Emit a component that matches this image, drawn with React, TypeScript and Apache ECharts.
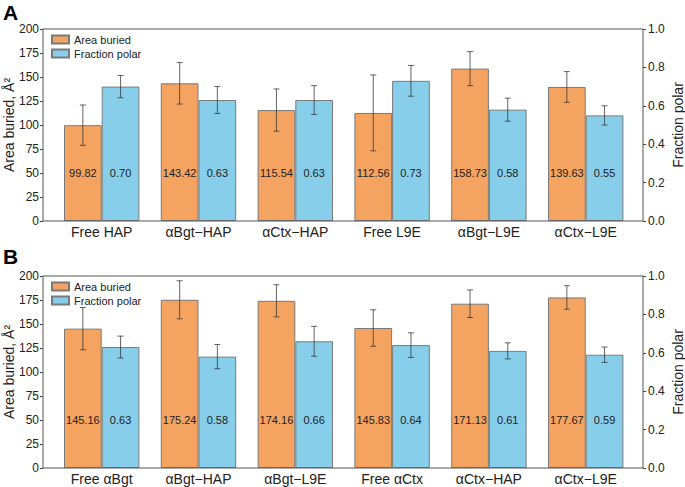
import React, { useEffect, useRef } from "react";
import * as echarts from "echarts";

const categoriesA = ["Free HAP", "αBgt−HAP", "αCtx−HAP", "Free L9E", "αBgt−L9E", "αCtx−L9E"];
const areaA = [99.82, 143.42, 115.54, 112.56, 158.73, 139.63];
const areaErrA = [21, 21.6, 22, 39.5, 17.7, 16];
const polarA = [0.7, 0.63, 0.63, 0.73, 0.58, 0.55];
const polarErrA = [0.058, 0.07, 0.075, 0.08, 0.06, 0.05];

const categoriesB = ["Free αBgt", "αBgt−HAP", "αBgt−L9E", "Free αCtx", "αCtx−HAP", "αCtx−L9E"];
const areaB = [145.16, 175.24, 174.16, 145.83, 171.13, 177.67];
const areaErrB = [22, 19.8, 16.7, 19, 14.4, 12.2];
const polarB = [0.63, 0.58, 0.66, 0.64, 0.61, 0.59];
const polarErrB = [0.057, 0.063, 0.078, 0.064, 0.042, 0.04];

const leftTicks = { min: 0, max: 200, interval: 25 };
const rightTicks = { min: 0, max: 1, interval: 0.2 };

const FONT = "Liberation Sans, Arial, Helvetica, sans-serif";
const ORANGE = "#F4A460";
const BLUE = "#87CEEB";
const EDGE = "#7a7a7a";
const BAR_W = 37.7;

const panels = [
  { top: 29, cats: categoriesA, area: areaA, areaErr: areaErrA, polar: polarA, polarErr: polarErrA, letter: "A", letterTop: 2 },
  { top: 276, cats: categoriesB, area: areaB, areaErr: areaErrB, polar: polarB, polarErr: polarErrB, letter: "B", letterTop: 246 },
];

const makeErr = (dx: number) => (params: any, api: any) => {
  const c = api.value(0);
  const lo = api.coord([c, api.value(1)]);
  const hi = api.coord([c, api.value(2)]);
  const x = lo[0] + dx;
  const cap = 3;
  const style = { stroke: "rgba(50,50,50,0.75)", lineWidth: 1 };
  return {
    type: "group",
    children: [
      { type: "line", shape: { x1: x, y1: lo[1], x2: x, y2: hi[1] }, style },
      { type: "line", shape: { x1: x - cap, y1: hi[1], x2: x + cap, y2: hi[1] }, style },
      { type: "line", shape: { x1: x - cap, y1: lo[1], x2: x + cap, y2: lo[1] }, style },
    ],
  };
};

export default function App() {
  const ref = useRef<HTMLDivElement>(null);
  useEffect(() => {
    if (!ref.current) return;
    const chart = echarts.init(ref.current, null, { renderer: "svg" });
    const grid: any[] = [];
    const xAxis: any[] = [];
    const yAxis: any[] = [];
    const series: any[] = [];
    const legend: any[] = [];
    const graphic: any[] = [];
    panels.forEach((p, i) => {
      grid.push({ left: 53.3, width: 580.8, top: p.top, height: 192, outerBoundsMode: "none", containLabel: false });
      xAxis.push({
        type: "category",
        gridIndex: i,
        data: p.cats,
        axisLine: { show: false },
        axisTick: { show: false },
        axisLabel: { color: "#222", fontSize: 14, fontFamily: FONT, margin: 4 },
      });
      yAxis.push({
        type: "value",
        gridIndex: i,
        ...leftTicks,
        offset: 10.3,
        position: "left",
        name: "Area buried, Å²",
        nameLocation: "middle",
        nameRotate: 90,
        nameGap: 27,
        nameMoveOverlap: false,
        nameTextStyle: { color: "#222", fontSize: 14, fontFamily: FONT },
        axisLine: { show: false },
        axisTick: { show: true, length: 3, lineStyle: { color: "#444" } },
        splitLine: { show: false },
        axisLabel: { color: "#222", fontSize: 12, fontFamily: FONT, margin: 4 },
      });
      yAxis.push({
        type: "value",
        gridIndex: i,
        ...rightTicks,
        offset: 8.9,
        position: "right",
        name: "Fraction polar",
        nameLocation: "middle",
        nameRotate: 90,
        nameGap: 28,
        nameMoveOverlap: false,
        nameTextStyle: { color: "#222", fontSize: 14, fontFamily: FONT },
        axisLine: { show: false },
        axisTick: { show: true, length: 3, lineStyle: { color: "#444" } },
        splitLine: { show: false },
        axisLabel: { color: "#222", fontSize: 12, fontFamily: FONT, margin: 5, formatter: (v: number) => v.toFixed(1) },
      });
      const labelBase = {
        show: true,
        position: "insideBottom",
        distance: 42,
        fontSize: 11,
        lineHeight: 12,
        color: "#222",
        fontFamily: FONT,
      };
      series.push({
        type: "bar",
        name: "Area buried",
        xAxisIndex: i,
        yAxisIndex: i * 2,
        data: p.area,
        barWidth: BAR_W,
        barGap: "0%",
        itemStyle: { color: ORANGE, borderColor: EDGE, borderWidth: 1 },
        label: { ...labelBase, formatter: (d: any) => d.value.toFixed(2) },
      });
      series.push({
        type: "bar",
        name: "Fraction polar",
        xAxisIndex: i,
        yAxisIndex: i * 2 + 1,
        data: p.polar,
        barWidth: BAR_W,
        barGap: "0%",
        itemStyle: { color: BLUE, borderColor: EDGE, borderWidth: 1 },
        label: { ...labelBase, formatter: (d: any) => d.value.toFixed(2) },
      });
      series.push({
        type: "custom",
        xAxisIndex: i,
        yAxisIndex: i * 2,
        z: 10,
        renderItem: makeErr(-BAR_W / 2),
        encode: { x: 0, y: [1, 2] },
        data: p.area.map((v, k) => [k, v - p.areaErr[k], v + p.areaErr[k]]),
      });
      series.push({
        type: "custom",
        xAxisIndex: i,
        yAxisIndex: i * 2 + 1,
        z: 10,
        renderItem: makeErr(BAR_W / 2),
        encode: { x: 0, y: [1, 2] },
        data: p.polar.map((v, k) => [k, v - p.polarErr[k], v + p.polarErr[k]]),
      });
      legend.push({
        data: ["Area buried", "Fraction polar"],
        orient: "vertical",
        left: 51,
        top: p.top + 5,
        itemWidth: 17,
        itemHeight: 8,
        itemGap: 3,
        icon: "rect",
        padding: 0,
        textStyle: { color: "#222", fontSize: 11, fontFamily: FONT },
      });
      graphic.push({
        type: "rect",
        silent: true,
        z: 100,
        shape: { x: 43, y: p.top, width: 600, height: 192 },
        style: { fill: "none", stroke: "#555", lineWidth: 1 },
      });
      graphic.push({
        type: "text",
        silent: true,
        left: 3,
        top: p.letterTop,
        style: { text: p.letter, fontSize: 21, fontWeight: "bold", fill: "#000", fontFamily: FONT },
      });
    });
    chart.setOption({
      animation: false,
      backgroundColor: "#fff",
      grid,
      xAxis,
      yAxis,
      series,
      legend,
      graphic,
    });
    return () => chart.dispose();
  }, []);
  return <div ref={ref} style={{ position: "fixed", left: 0, top: 0, width: 685, height: 487 }} />;
}
